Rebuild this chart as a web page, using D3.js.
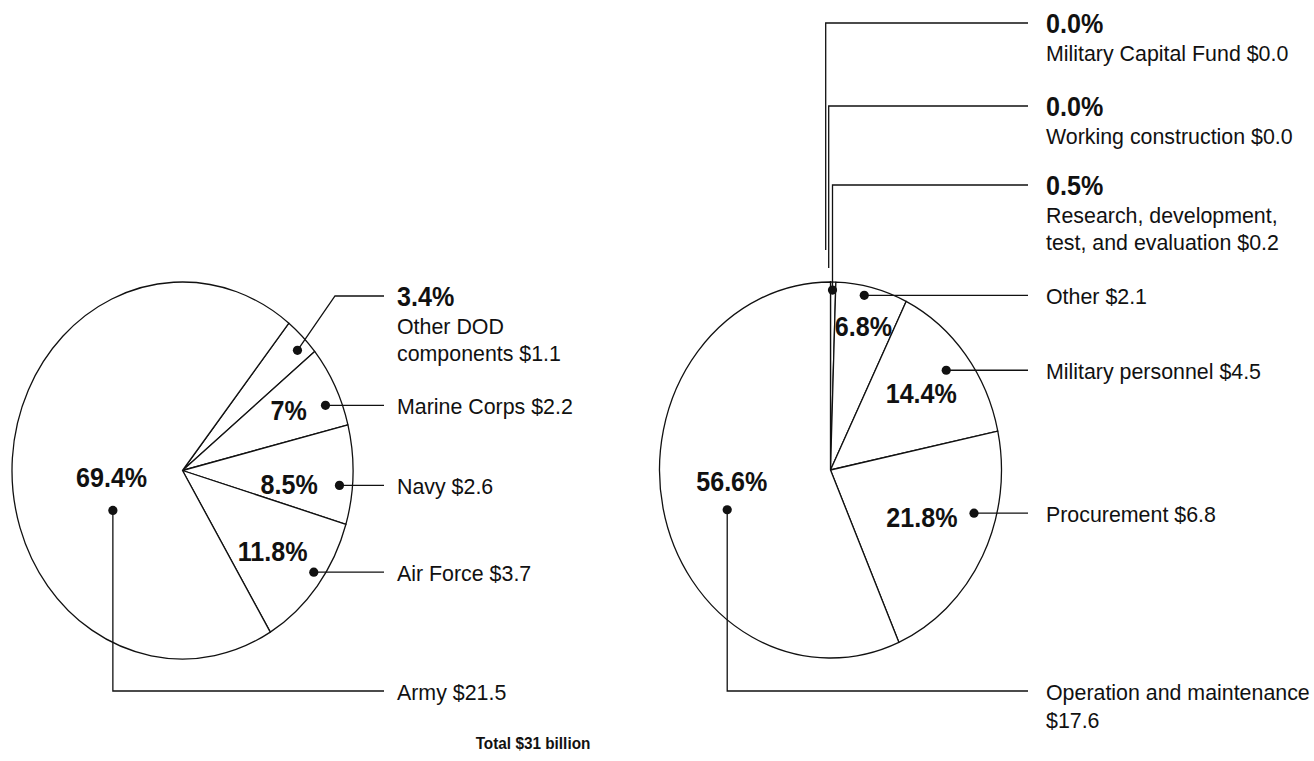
<!DOCTYPE html>
<html>
<head>
<meta charset="utf-8">
<script src="https://cdn.jsdelivr.net/npm/d3@7/dist/d3.min.js"></script>
<style>
  body { margin: 0; background: #fff; }
  svg text { font-family: "Liberation Sans", Arial, Helvetica, sans-serif; fill: #111; }
  .pct { font-weight: bold; font-size: 27px; }
  .name { font-size: 23px; }
  .total { font-weight: bold; font-size: 16.5px; }
</style>
</head>
<body>
<svg id="chart" width="1314" height="761"></svg>
<script>
/* DATA: BY COMPONENT (LEFT PIE) */
var leftNames = ["Other DOD\ncomponents", "Marine Corps", "Navy", "Air Force", "Army"];
var leftPct = [3.4, 7, 8.5, 11.8, 69.4];
var leftDollars = [1.1, 2.2, 2.6, 3.7, 21.5];

/* DATA: BY APPROPRIATION (RIGHT PIE) */
var rightNames = ["Military Capital Fund", "Working construction", "Research, development,\ntest, and evaluation",
                  "Other", "Military personnel", "Procurement", "Operation and maintenance"];
var rightPct = [0.0, 0.0, 0.5, 6.8, 14.4, 21.8, 56.6];
var rightDollars = [0.0, 0.0, 0.2, 2.1, 4.5, 6.8, 17.6];

var totalLabel = "Total $31 billion";

/* LAYOUT (annotation placement, degrees clockwise from 12 o'clock, r as fraction of radius) */
var leftLayout = [
  { inside: false, dot: [46.6, 0.928], leader: "elbow", elbowX: 335, lineY: 296 },
  { inside: true, pct: [62.7, 0.70], dot: [67.6, 0.907], leader: "h" },
  { inside: true, pct: [96.7, 0.63], dot: [94.9, 0.924], leader: "h" },
  { inside: true, pct: [129, 0.68], dot: [125, 0.94], leader: "h" },
  { inside: true, pct: [265.6, 0.417], dot: [242.6, 0.46], leader: "v", lineY: 691 }
];
var rightLayout = [
  { inside: false, start: [-4.8, 250], leader: "v", lineY: 23 },
  { inside: false, start: [-1.8, 268], leader: "v", lineY: 106 },
  { inside: false, dot: [0.7, 0.957], leader: "v", lineY: 185 },
  { inside: true, pct: [14.1, 0.79], dot: [12, 0.95], leader: "h" },
  { inside: true, pct: [52.4, 0.67], dot: [51.9, 0.86], leader: "h" },
  { inside: true, pct: [115, 0.59], dot: [105.3, 0.87], leader: "h" },
  { inside: true, pct: [264.3, 0.58], dot: [250.7, 0.64], leader: "v", lineY: 691, amountBelow: true }
];

var svg = d3.select("#chart");
var rad = Math.PI / 180;
var squeeze = 0.93; // the original lettering is a little narrow

function putText(sel, cls, x, y, s, anchor) {
  return sel.append("text").attr("class", cls)
    .attr("transform", "translate(" + x + "," + y + ") scale(" + squeeze + ",1)")
    .attr("text-anchor", anchor || "start")
    .text(s);
}

function drawPie(cfg) {
  var rx = cfg.rx, ry = cfg.ry;
  function pt(a, r) {
    return [cfg.cx + rx * r * Math.sin(a * rad), cfg.cy - ry * r * Math.cos(a * rad)];
  }
  var pie = d3.pie().sort(null).value(function(d) { return d; })
    .startAngle(cfg.start * rad).endAngle(cfg.start * rad + 2 * Math.PI);
  var arc = d3.arc().innerRadius(0).outerRadius(ry);
  var arcs = pie(cfg.pct);

  var g = svg.append("g").attr("transform", "translate(" + cfg.cx + "," + cfg.cy + ") scale(" + (rx / ry) + ",1)");
  g.selectAll("path").data(arcs).enter().append("path")
    .attr("d", arc)
    .attr("fill", "#fff")
    .attr("stroke", "#111")
    .attr("stroke-width", 1.3)
    .attr("stroke-linejoin", "round")
    .attr("vector-effect", "non-scaling-stroke");

  var ann = svg.append("g");
  cfg.layout.forEach(function(L, i) {
    var pctText = cfg.fmt(cfg.pct[i]) + "%";
    var amount = "$" + cfg.dollars[i].toFixed(1);
    var lines = L.amountBelow ? [cfg.names[i], amount] : (cfg.names[i] + " " + amount).split("\n");

    var p0 = L.dot ? pt(L.dot[0], L.dot[1]) : [cfg.cx + L.start[0], L.start[1]];
    var path, lineY;
    if (L.leader === "h") {
      lineY = p0[1];
      path = [p0, [cfg.lineEnd, lineY]];
    } else if (L.leader === "elbow") {
      lineY = L.lineY;
      path = [p0, [L.elbowX, lineY], [cfg.lineEnd, lineY]];
    } else {
      lineY = L.lineY;
      path = [p0, [p0[0], lineY], [cfg.lineEnd, lineY]];
    }
    ann.append("path")
      .attr("d", d3.line()(path))
      .attr("fill", "none")
      .attr("stroke", "#111")
      .attr("stroke-width", 1.3);
    if (L.dot) {
      ann.append("circle").attr("cx", p0[0]).attr("cy", p0[1]).attr("r", 4.6).attr("fill", "#111");
    }

    if (L.inside) {
      var pp = pt(L.pct[0], L.pct[1]);
      putText(ann, "pct", pp[0], pp[1] + 10, pctText, "middle");
      lines.forEach(function(s, k) {
        putText(ann, "name", cfg.textX, lineY + 8.5 + k * 28, s);
      });
    } else {
      putText(ann, "pct", cfg.textX, lineY + 10, pctText);
      lines.forEach(function(s, k) {
        putText(ann, "name", cfg.textX, lineY + 37.5 + k * 27.5, s);
      });
    }
  });
}

drawPie({
  cx: 182.5, cy: 470.5, rx: 170.5, ry: 188.5, start: 38.6,
  pct: leftPct, names: leftNames, dollars: leftDollars, layout: leftLayout,
  fmt: function(v) { return String(v); },
  lineEnd: 384, textX: 397
});

drawPie({
  cx: 830.5, cy: 470, rx: 171, ry: 188, start: 0,
  pct: rightPct, names: rightNames, dollars: rightDollars, layout: rightLayout,
  fmt: function(v) { return v.toFixed(1); },
  lineEnd: 1028, textX: 1046
});

putText(svg, "total", 533, 749, totalLabel, "middle");
</script>
</body>
</html>
